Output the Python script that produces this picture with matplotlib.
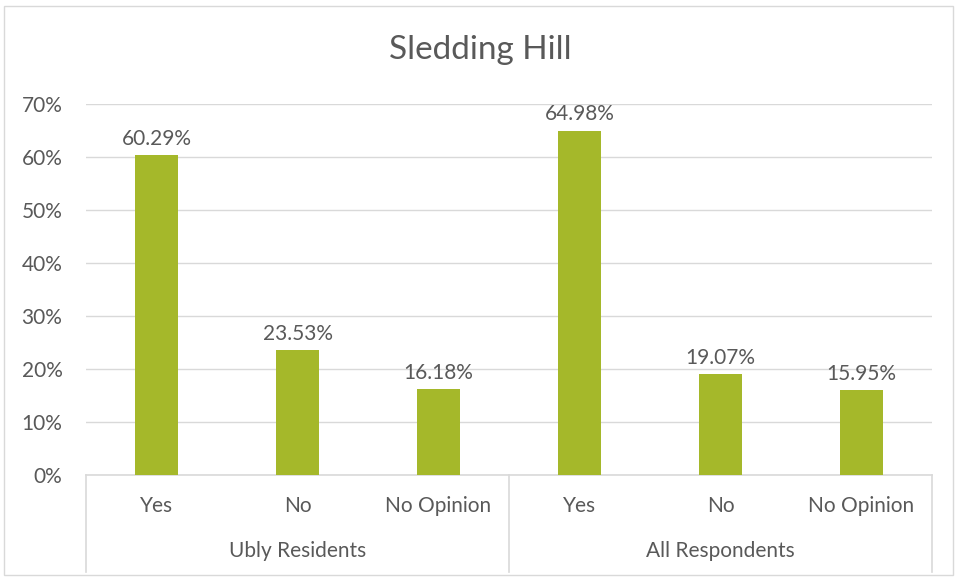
import matplotlib
matplotlib.use("Agg")
import matplotlib.pyplot as plt
from matplotlib.lines import Line2D
from matplotlib.patches import Rectangle

groups = ["Ubly Residents", "All Respondents"]
answers = ["Yes", "No", "No Opinion"]
values = [60.29, 23.53, 16.18, 64.98, 19.07, 15.95]

plt.rcParams['font.family'] = ['Lato', 'DejaVu Sans']
txt = "#595959"
grid = "#D9D9D9"
bar_color = "#A5B82A"

W, H = 961, 577
fig = plt.figure(figsize=(W / 100, H / 100), dpi=100)
fig.patches.append(Rectangle((0.004, 0.004), 0.988, 0.986, transform=fig.transFigure,
                             fill=False, edgecolor=grid, lw=1))

left, right = 86 / W, 932 / W
bottom, top = 1 - 475 / H, 1 - 104 / H
ax = fig.add_axes([left, bottom, right - left, top - bottom])

x = list(range(len(values)))
ax.bar(x, values, width=0.31, color=bar_color, zorder=3)
for xi, v in zip(x, values):
    ax.text(xi, v + 1.2, "%.2f%%" % v, ha="center", va="bottom", fontsize=15, color=txt)

ax.set_xlim(-0.5, len(values) - 0.5)
ax.set_ylim(0, 70)
ax.set_yticks(range(0, 71, 10))
ax.set_yticklabels(["%d%%" % t for t in range(0, 71, 10)], fontsize=15, color=txt)
ax.yaxis.grid(True, color=grid, lw=1)
ax.tick_params(axis="y", length=0, pad=17)
ax.set_xticks([])
for s in ["top", "right", "left"]:
    ax.spines[s].set_visible(False)
ax.spines["bottom"].set_color(grid)
ax.spines["bottom"].set_linewidth(1.2)

# category labels
for i, lab in enumerate(answers * len(groups)):
    fig.text(left + (i + 0.5) / len(values) * (right - left), 1 - 506 / H, lab,
             ha="center", va="center", fontsize=15, color=txt)
for g, name in enumerate(groups):
    fig.text(left + (g + 0.5) / len(groups) * (right - left), 1 - 551 / H, name,
             ha="center", va="center", fontsize=15, color=txt)
for g in range(len(groups) + 1):
    xf = left + g / len(groups) * (right - left)
    fig.add_artist(Line2D([xf, xf], [bottom, 1 - 572 / H], transform=fig.transFigure,
                          color=grid, lw=1.2))

fig.text(0.5, 1 - 50 / H, "Sledding Hill", ha="center", va="center", fontsize=24, color=txt)

fig.savefig("out.png", dpi=100)
